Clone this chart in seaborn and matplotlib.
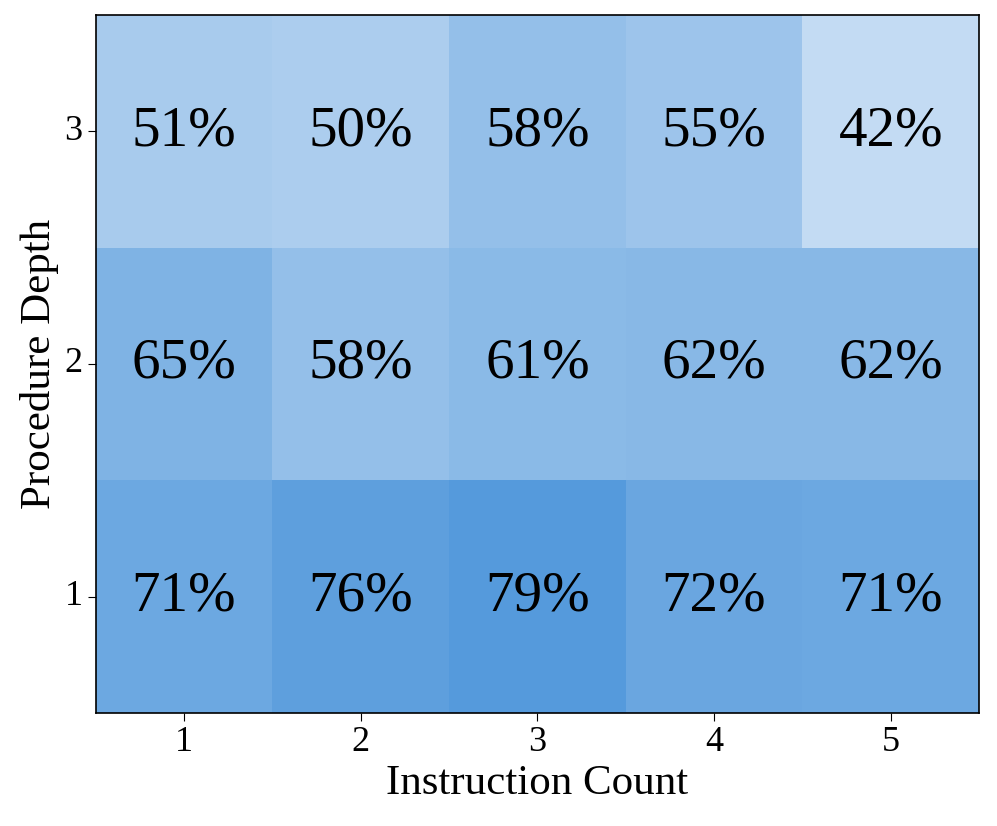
import numpy as np
import pandas as pd
import seaborn as sns
from matplotlib import pyplot as plt
from matplotlib.colors import LinearSegmentedColormap

# data
instruction_counts = [1, 2, 3, 4, 5]
procedure_depths = [3, 2, 1]
depth_3 = [0.51, 0.50, 0.58, 0.55, 0.42]
depth_2 = [0.65, 0.58, 0.61, 0.62, 0.62]
depth_1 = [0.71, 0.76, 0.79, 0.72, 0.71]

df = pd.DataFrame([depth_3, depth_2, depth_1], index=procedure_depths, columns=instruction_counts)

plt.rcParams['font.family'] = ['Liberation Serif', 'DejaVu Serif']

cmap = LinearSegmentedColormap.from_list('lightblue', ['#ffffff', '#5298db'])

fig, ax = plt.subplots(figsize=(9.97, 8.26), dpi=100)
sns.heatmap(df, annot=True, fmt='.0%', cmap=cmap, vmin=0.22, vmax=0.8, cbar=False, ax=ax,
            annot_kws={'fontsize': 41, 'color': 'black'})

for side in ['top', 'right', 'bottom', 'left']:
    ax.spines[side].set_visible(True)
    ax.spines[side].set_linewidth(1.2)

ax.set_xlabel('Instruction Count', fontsize=31, labelpad=4)
ax.set_ylabel('Procedure Depth', fontsize=31, labelpad=4)
ax.tick_params(axis='both', labelsize=26, length=6)
ax.set_yticklabels(ax.get_yticklabels(), rotation=0)

plt.subplots_adjust(left=0.096, right=0.982, top=0.982, bottom=0.137)
plt.savefig('out.png')
plt.close()
